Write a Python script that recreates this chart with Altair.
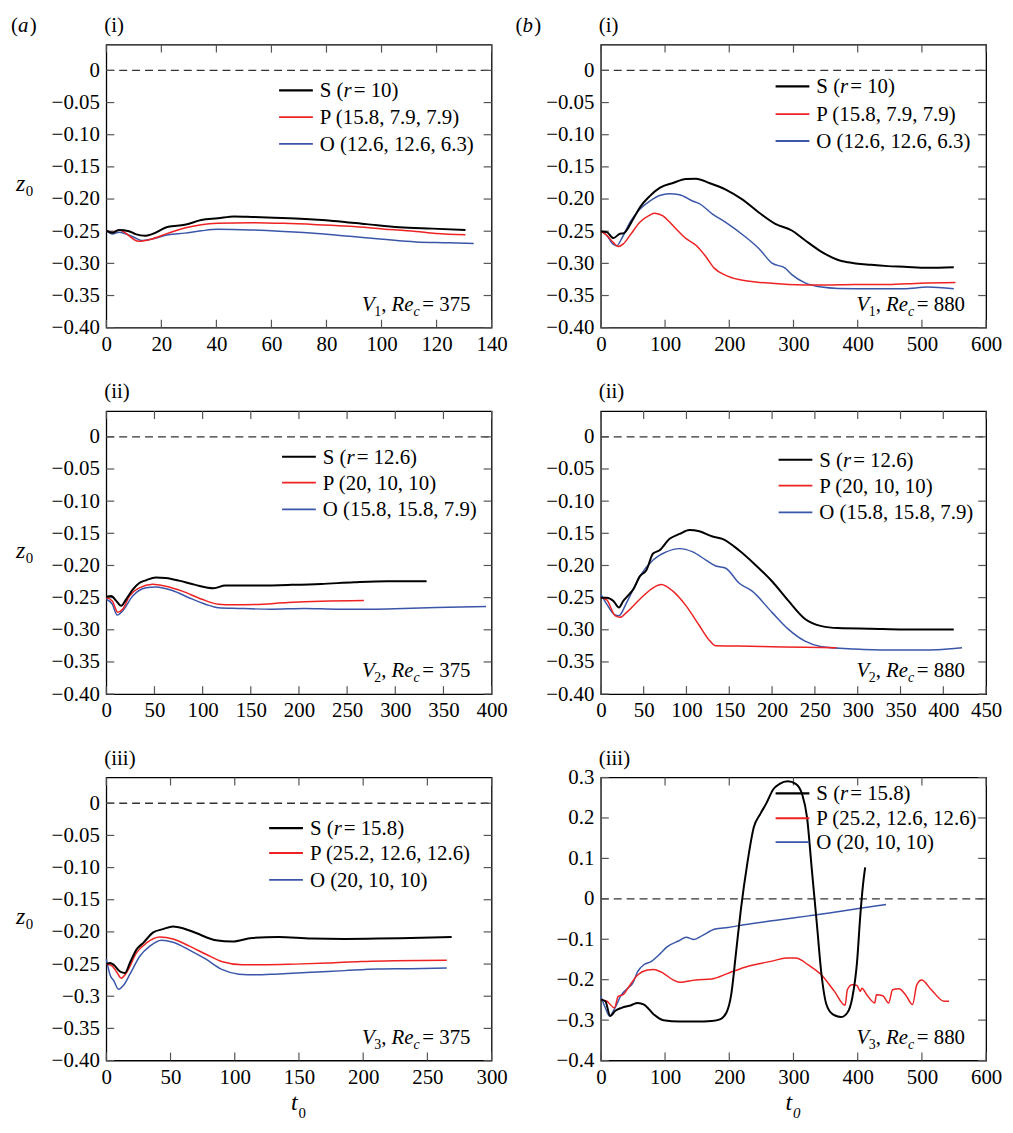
import altair as alt
import pandas as pd

FONT = "Liberation Serif"
FS = 21
W, H = 388, 285
BLACK, RED, BLUE = "#000000", "#ee2222", "#3a56a8"

# ---------------- data ----------------
# (a)(i)  V1, Re_c = 375
A1_S_t = [0, 2.2, 4.6, 8.2, 10.6, 14.2, 16.6, 22.5, 28.5, 34.5, 40.5, 46.5, 53.7, 60.9, 70.5, 82.5, 94.5, 106.5, 118.5, 130.5]
A1_S_z = [-0.249, -0.2525, -0.248, -0.250, -0.2545, -0.257, -0.2545, -0.243, -0.240, -0.2327, -0.230, -0.227, -0.228, -0.229, -0.2307, -0.234, -0.239, -0.244, -0.246, -0.248]
A1_P_t = [0, 2.2, 4.6, 11.8, 16.6, 22.5, 28.5, 34.5, 40.5, 52.5, 64.5, 76.5, 88.5, 100.5, 112.5, 119.7, 130.5]
A1_P_z = [-0.249, -0.252, -0.248, -0.2657, -0.262, -0.253, -0.245, -0.240, -0.2378, -0.2368, -0.2378, -0.2398, -0.2423, -0.2464, -0.2504, -0.2535, -0.2555]
A1_O_t = [0, 2.2, 4.6, 10.6, 13, 16.6, 22.5, 28.5, 34.5, 40.5, 52.5, 64.5, 76.5, 88.5, 100.5, 112.5, 124.5, 133.5]
A1_O_z = [-0.249, -0.2545, -0.2515, -0.2606, -0.2646, -0.262, -0.2555, -0.253, -0.2494, -0.247, -0.248, -0.2504, -0.2535, -0.258, -0.2626, -0.2667, -0.268, -0.2692]

# (b)(i)  V1, Re_c = 880
B1_S_t = [0, 9.3, 19.6, 29.8, 35, 50.4, 60.7, 76.2, 91.6, 112.2, 132.8, 148.2, 168.8, 194.5, 220.2, 246, 271.7, 297.4, 318, 343.7, 369.5, 384.9, 420.9, 446.7, 472.4, 508.4, 549.6]
B1_S_z = [-0.2504, -0.2514, -0.2606, -0.254, -0.2534, -0.231, -0.2132, -0.1954, -0.1827, -0.175, -0.169, -0.1684, -0.175, -0.1852, -0.2005, -0.2209, -0.2387, -0.2489, -0.2641, -0.282, -0.2947, -0.2982, -0.3023, -0.3043, -0.3053, -0.3069, -0.3059]
B1_P_t = [0, 9.3, 19.6, 27.3, 35, 45.3, 60.7, 76.2, 83.9, 96.7, 112.2, 132.8, 148.2, 163.6, 176.5, 194.5, 215.1, 240.8, 292.3, 343.7, 395.2, 446.7, 498.1, 552.2]
B1_P_z = [-0.2504, -0.2565, -0.2677, -0.2738, -0.2697, -0.2565, -0.2361, -0.2249, -0.2219, -0.226, -0.2412, -0.2616, -0.2718, -0.2896, -0.3074, -0.3186, -0.3252, -0.3288, -0.3328, -0.3338, -0.3328, -0.3328, -0.3308, -0.3298]
B1_O_t = [0, 9.3, 19.6, 24.7, 32.4, 45.3, 60.7, 76.2, 91.6, 107, 122.5, 143, 153.3, 173.9, 194.5, 225.4, 246, 266.6, 287.1, 297.4, 318, 343.7, 369.5, 420.9, 472.4, 508.4, 549.6]
B1_O_z = [-0.2489, -0.2565, -0.2707, -0.2728, -0.2616, -0.2361, -0.2158, -0.2031, -0.1944, -0.1919, -0.1934, -0.2031, -0.2071, -0.2234, -0.2361, -0.259, -0.2768, -0.2997, -0.3074, -0.3176, -0.3303, -0.3369, -0.3389, -0.3394, -0.3394, -0.3369, -0.3394]

# (a)(ii)  V2, Re_c = 375
A2_S_t = [0, 5.1, 10.3, 15.4, 20.6, 27.4, 34.3, 41.1, 51.4, 61.7, 75.4, 92.5, 111.4, 123.4, 154.2, 188.5, 222.8, 257.1, 291.3, 332.5]
A2_S_z = [-0.2485, -0.2475, -0.2551, -0.2628, -0.2526, -0.2374, -0.2272, -0.2231, -0.2186, -0.2196, -0.2236, -0.2302, -0.2353, -0.2313, -0.2313, -0.2302, -0.2287, -0.2262, -0.2247, -0.2247]
A2_P_t = [0, 6.2, 12, 17.1, 24, 34.3, 48, 61.7, 78.8, 99.4, 116.5, 130.2, 154.2, 188.5, 222.8, 267.4]
A2_P_z = [-0.25, -0.2551, -0.2729, -0.2678, -0.2475, -0.2348, -0.2292, -0.2323, -0.2399, -0.2526, -0.2602, -0.2612, -0.2607, -0.2577, -0.2557, -0.2546]
A2_O_t = [0, 6.2, 11.3, 17.1, 27.4, 41.1, 51.4, 68.6, 85.7, 102.8, 116.5, 137.1, 171.4, 205.7, 239.9, 274.2, 308.5, 342.8, 394.2]
A2_O_z = [-0.2526, -0.2602, -0.277, -0.2704, -0.2475, -0.2348, -0.2333, -0.2389, -0.2501, -0.2602, -0.2658, -0.2668, -0.2679, -0.2668, -0.2679, -0.2679, -0.2668, -0.2653, -0.2638]

# (b)(ii)  V2, Re_c = 880
B2_S_t = [0, 6.9, 14.7, 21.2, 26.2, 32, 37.8, 45.5, 53.3, 61, 68.7, 80.3, 91.9, 103.4, 115, 130.5, 142, 161.3, 180.6, 199.9, 219.2, 238.5, 257.8, 277.1, 315.7, 354.3, 412.2]
B2_S_z = [-0.25, -0.25, -0.2551, -0.2653, -0.2551, -0.2465, -0.2374, -0.217, -0.2069, -0.1815, -0.1764, -0.1586, -0.151, -0.1449, -0.1469, -0.155, -0.1586, -0.1764, -0.1992, -0.2246, -0.2551, -0.2831, -0.2943, -0.2973, -0.2983, -0.2994, -0.2994]
B2_P_t = [0, 6.9, 16.6, 22.4, 30.1, 45.5, 61, 70.6, 84.1, 99.6, 115, 126.6, 134.3, 161.3, 199.9, 238.5, 275.2]
B2_P_z = [-0.25, -0.2536, -0.278, -0.2806, -0.2729, -0.2526, -0.2348, -0.2297, -0.2399, -0.2628, -0.2933, -0.3161, -0.3248, -0.3253, -0.3263, -0.3273, -0.3278]
B2_O_t = [0, 6.9, 16.6, 21.2, 30.1, 45.5, 61, 76.4, 91.9, 107.3, 122.7, 134.3, 145.9, 161.3, 176.8, 199.9, 219.2, 238.5, 257.8, 296.4, 335, 373.6, 392.9, 421.8]
B2_O_z = [-0.245, -0.2602, -0.277, -0.278, -0.2577, -0.217, -0.1916, -0.1789, -0.1738, -0.1789, -0.1916, -0.2008, -0.2043, -0.2272, -0.2399, -0.2729, -0.2994, -0.3177, -0.3263, -0.3299, -0.3314, -0.3314, -0.3309, -0.3278]

# (a)(iii)  V3, Re_c = 375
A3_S_t = [0, 3.1, 5.7, 10.8, 14.6, 18.5, 23.6, 28.8, 36.5, 44.2, 51.9, 59.6, 69.9, 85.3, 98.1, 113.5, 134.1, 159.8, 185.4, 211.1, 236.8, 268.9]
A3_S_z = [-0.2501, -0.2485, -0.2511, -0.2618, -0.2638, -0.2475, -0.2272, -0.217, -0.2008, -0.1957, -0.1916, -0.1942, -0.2018, -0.213, -0.215, -0.2094, -0.2079, -0.2104, -0.2109, -0.2104, -0.2094, -0.2079]
A3_P_t = [0, 4.4, 8.2, 11.6, 15.9, 23.6, 31.3, 41.6, 51.9, 64.7, 77.6, 90.4, 105.8, 121.2, 146.9, 172.6, 198.3, 224, 265.1]
A3_P_z = [-0.2501, -0.2526, -0.2628, -0.2719, -0.2628, -0.2323, -0.217, -0.2079, -0.2109, -0.2221, -0.2348, -0.2465, -0.2511, -0.2511, -0.2501, -0.2485, -0.246, -0.245, -0.244]
A3_O_t = [0, 3.1, 5.7, 9.5, 13.4, 18.5, 26.2, 33.9, 42.9, 51.9, 64.7, 77.6, 90.4, 103.3, 116.1, 134.1, 159.8, 185.4, 211.1, 236.8, 265.1]
A3_O_z = [-0.2424, -0.2679, -0.2755, -0.2892, -0.2831, -0.2653, -0.2374, -0.2221, -0.213, -0.216, -0.2282, -0.2424, -0.2587, -0.2658, -0.2668, -0.2653, -0.2628, -0.2602, -0.2577, -0.2572, -0.2562]

# (b)(iii)  V3, Re_c = 880
B3_S_t = [0, 7, 14.6, 22.1, 32.2, 47.2, 57.3, 67.3, 82.4, 97.5, 122.6, 147.7, 172.9, 185.4, 195.5, 203, 210.6, 218.1, 228.1, 238.2, 248.2, 258.3, 268.3, 278.4, 291, 303.5, 313.6, 321.1, 328.6, 336.2, 343.7, 351.3, 361.3, 373.9, 383.9, 391.5, 399, 404, 408, 411.6]
B3_S_z = [-0.2493, -0.2534, -0.2899, -0.2777, -0.2696, -0.2631, -0.2574, -0.2615, -0.2859, -0.3005, -0.3037, -0.3037, -0.3021, -0.298, -0.2818, -0.2371, -0.1316, -0.026, 0.0877, 0.177, 0.2095, 0.2379, 0.2704, 0.2842, 0.2907, 0.2842, 0.2582, 0.2014, 0.0715, -0.0585, -0.1884, -0.2615, -0.2859, -0.2924, -0.2818, -0.2453, -0.1559, -0.0422, 0.0309, 0.078]
B3_P_t = [0, 9.5, 21.1, 27.1, 34.7, 42.2, 57.3, 72.4, 82.4, 97.5, 112.6, 122.6, 147.7, 172.9, 198, 223.1, 248.2, 268.3, 288.4, 303.5, 323.6, 343.7, 363.8, 380.4, 383.9, 391.5, 399, 404, 406.5, 414.1, 426.6, 429.1, 439.2, 448.2, 454.3, 464.3, 474.4, 485.4, 492, 499.5, 514.6, 534.7, 542.2]
B3_P_z = [-0.2493, -0.2534, -0.2696, -0.2412, -0.2371, -0.2209, -0.1884, -0.1762, -0.1746, -0.1843, -0.2006, -0.2063, -0.2006, -0.1981, -0.1843, -0.1697, -0.16, -0.1535, -0.1462, -0.1462, -0.164, -0.1884, -0.229, -0.2631, -0.2249, -0.2128, -0.2144, -0.229, -0.2209, -0.2371, -0.2574, -0.2371, -0.2396, -0.2574, -0.2249, -0.2225, -0.2371, -0.2615, -0.2128, -0.2006, -0.2249, -0.2534, -0.2534]
B3_O_t = [0, 7, 13.6, 22.1, 32.2, 42.2, 49.7, 57.3, 67.3, 77.4, 92.5, 102.5, 122.6, 132.7, 145.2, 157.8, 177.9, 198, 223.1, 273.4, 323.6, 373.9, 409, 444.2]
B3_O_z = [-0.2412, -0.2696, -0.2899, -0.2696, -0.2371, -0.2209, -0.2087, -0.1803, -0.1624, -0.1559, -0.1356, -0.1194, -0.1031, -0.095, -0.1007, -0.091, -0.0747, -0.0707, -0.0642, -0.0528, -0.0422, -0.0309, -0.0219, -0.0138]

# tick values and legend labels
Y_TICKS_A = [-0.40, -0.35, -0.30, -0.25, -0.20, -0.15, -0.10, -0.05, 0.0]
Y_TICKS_B3 = [-0.4, -0.3, -0.2, -0.1, 0.0, 0.1, 0.2, 0.3]
X_TICKS_A1 = [0, 20, 40, 60, 80, 100, 120, 140]
X_TICKS_B1 = [0, 100, 200, 300, 400, 500, 600]
X_TICKS_A2 = [0, 50, 100, 150, 200, 250, 300, 350, 400]
X_TICKS_B2 = [0, 50, 100, 150, 200, 250, 300, 350, 400, 450]
X_TICKS_A3 = [0, 50, 100, 150, 200, 250, 300]
X_TICKS_B3 = [0, 100, 200, 300, 400, 500, 600]

LEG_1 = ["10", "P (15.8, 7.9, 7.9)", "O (12.6, 12.6, 6.3)"]
LEG_2 = ["12.6", "P (20, 10, 10)", "O (15.8, 15.8, 7.9)"]
LEG_3 = ["15.8", "P (25.2, 12.6, 12.6)", "O (20, 10, 10)"]

# ---------------- helpers ----------------
ONE = pd.DataFrame({"k": [0]})

REG = {"(": 0.333, ")": 0.333, " ": 0.25, ",": 0.25, ".": 0.25, "=": 0.564,
       "S": 0.556, "P": 0.556, "O": 0.722, "i": 0.278}
ITA = {"r": 0.389, "V": 0.611, "R": 0.611, "e": 0.444, "c": 0.444, "z": 0.389,
       "t": 0.278, "a": 0.5, "b": 0.5}


def tw(s, italic, size):
    tab = ITA if italic else REG
    return sum(tab.get(ch, 0.5) for ch in s) * size


def piece(txt, x, y, size=FS, italic=False):
    return alt.Chart(ONE).mark_text(
        font=FONT, fontSize=size, fontStyle="italic" if italic else "normal",
        align="left", baseline="alphabetic", color="black"
    ).encode(x=alt.value(x), y=alt.value(y), text=alt.value(txt))


def rich(pieces, x, y, anchor="left"):
    # pieces: (text, italic, size, dy, extra advance)
    total = sum(tw(t, it, s) + ex for t, it, s, dy, ex in pieces)
    if anchor == "right":
        x = x - total
    out = []
    for t, it, s, dy, ex in pieces:
        out.append(piece(t, x, y + dy, s, it))
        x += tw(t, it, s) + ex
    return out


def panel(series, xticks, ydom, yticks, label_expr, legend, leg_x, leg_rows,
          annot, roman, letter=None, ytitle=False, xtitle=None):
    xs = alt.Scale(domain=[xticks[0], xticks[-1]], nice=False, zero=False)
    ys = alt.Scale(domain=ydom, nice=False, zero=False)
    xaxis = alt.Axis(values=xticks, title=None, ticks=False, domain=False, grid=False,
                     labelFlush=False, labelOverlap=False, labelPadding=6,
                     labelFont=FONT, labelFontSize=FS, labelColor="black")
    yaxis = alt.Axis(values=yticks, title=None, ticks=False, domain=False, grid=False,
                     labelOverlap=False, labelPadding=7, labelExpr=label_expr,
                     labelFont=FONT, labelFontSize=FS, labelColor="black")
    xenc = alt.X("t:Q", scale=xs, axis=xaxis)
    yenc = alt.Y("z:Q", scale=ys, axis=yaxis)

    layers = []
    # dashed zero line
    layers.append(alt.Chart(pd.DataFrame({"z": [0.0]})).mark_rule(
        color="#333333", strokeDash=[8, 5], strokeWidth=1.4
    ).encode(y=yenc, x=alt.value(0), x2=alt.value(W)))
    # inward ticks on all four sides
    xt = pd.DataFrame({"t": xticks})
    yt = pd.DataFrame({"z": yticks})
    tk = dict(color="#555555", strokeWidth=1.2)
    layers.append(alt.Chart(xt).mark_rule(**tk).encode(x=xenc, y=alt.value(H), y2=alt.value(H - 8)))
    layers.append(alt.Chart(xt).mark_rule(**tk).encode(x=xenc, y=alt.value(0), y2=alt.value(8)))
    layers.append(alt.Chart(yt).mark_rule(**tk).encode(y=yenc, x=alt.value(0), x2=alt.value(8)))
    layers.append(alt.Chart(yt).mark_rule(**tk).encode(y=yenc, x=alt.value(W), x2=alt.value(W - 8)))
    # curves: O (blue), P (red), S (black)
    (st, sz), (pt, pz), (ot, oz) = series
    for t, z, col, sw in [(ot, oz, BLUE, 1.5), (pt, pz, RED, 1.5), (st, sz, BLACK, 2.0)]:
        df = pd.DataFrame({"t": t, "z": z})
        layers.append(alt.Chart(df).mark_line(color=col, strokeWidth=sw, interpolate="monotone")
                      .encode(x=xenc, y=yenc))
    # legend
    for (col, sw), yy in zip([(BLACK, 2.2), (RED, 1.8), (BLUE, 1.8)], leg_rows):
        layers.append(alt.Chart(ONE).mark_rule(color=col, strokeWidth=sw).encode(
            x=alt.value(leg_x), x2=alt.value(leg_x + 34), y=alt.value(yy)))
    tx = leg_x + 41
    layers += rich([("S (", False, FS, 0, 0), ("r", True, FS, 0, 2),
                    (" = " + legend[0] + ")", False, FS, 0, 0)],
                   tx, leg_rows[0] + 7)
    layers.append(piece(legend[1], tx, leg_rows[1] + 7))
    layers.append(piece(legend[2], tx, leg_rows[2] + 7))
    # annotation V_k, Re_c = ...
    vk, rec = annot
    layers += rich([("V", True, FS, 0, -0.5), (vk, False, 14, 5, 0), (", ", False, FS, 0, 0),
                    ("Re", True, FS, 0, 0), ("c", True, 14, 5, 2.5), (" = " + rec, False, FS, 0, 0)],
                   W - 16, H - 17, anchor="right")
    # panel labels
    layers.append(piece(roman, -2, -13))
    if letter:
        layers += rich([("(", False, FS, 0, 0), (letter, True, FS, 0, 1.5), (")", False, FS, 0, 0)],
                       letter_x[letter], -13)
    if ytitle:
        layers.append(piece("z", -91, H / 2 + 5, 24, True))
        layers.append(piece("0", -81, H / 2 + 10, 15, False))
    if xtitle:
        layers.append(piece("t", W / 2 - 8, H + 50, 24, True))
        layers.append(piece("0", W / 2 - 0.5, H + 58, 15, xtitle == "it"))
    return alt.layer(*layers).properties(width=W, height=H)


letter_x = {"a": -96, "b": -86}

LBL_2F = "datum.value == 0 ? '0' : format(datum.value, '.2f')"
LBL_A3 = "datum.value == 0 ? '0' : (abs(datum.value + 0.3) < 1e-6 ? '\u22120.3' : format(datum.value, '.2f'))"
LBL_1F = "datum.value == 0 ? '0' : format(datum.value, '.1f')"
YD = [-0.40, 0.04]

a1 = panel([(A1_S_t, A1_S_z), (A1_P_t, A1_P_z), (A1_O_t, A1_O_z)], X_TICKS_A1, YD, Y_TICKS_A, LBL_2F,
           LEG_1, 174, [46, 73, 100], ("1", "375"), "(i)", letter="a", ytitle=True)
b1 = panel([(B1_S_t, B1_S_z), (B1_P_t, B1_P_z), (B1_O_t, B1_O_z)], X_TICKS_B1, YD, Y_TICKS_A, LBL_2F,
           LEG_1, 176, [42, 70, 97], ("1", "880"), "(i)", letter="b")
a2 = panel([(A2_S_t, A2_S_z), (A2_P_t, A2_P_z), (A2_O_t, A2_O_z)], X_TICKS_A2, YD, Y_TICKS_A, LBL_2F,
           LEG_2, 177, [46, 72, 99], ("2", "375"), "(ii)", ytitle=True)
b2 = panel([(B2_S_t, B2_S_z), (B2_P_t, B2_P_z), (B2_O_t, B2_O_z)], X_TICKS_B2, YD, Y_TICKS_A, LBL_2F,
           LEG_2, 179, [49, 75, 102], ("2", "880"), "(ii)")
a3 = panel([(A3_S_t, A3_S_z), (A3_P_t, A3_P_z), (A3_O_t, A3_O_z)], X_TICKS_A3, YD, Y_TICKS_A, LBL_A3,
           LEG_3, 164, [51, 76, 103], ("3", "375"), "(iii)", ytitle=True, xtitle="up")
b3 = panel([(B3_S_t, B3_S_z), (B3_P_t, B3_P_z), (B3_O_t, B3_O_z)], X_TICKS_B3, [-0.4, 0.3], Y_TICKS_B3, LBL_1F,
           LEG_3, 176, [16, 41, 65], ("3", "880"), "(iii)", xtitle="it")

chart = alt.concat(
    a1, b1, a2, b2, a3, b3, columns=2,
    spacing={"row": 84, "column": 110}, bounds="flush",
).properties(padding={"left": 2, "top": 2, "right": 2, "bottom": 2}).configure_view(
    stroke="black", strokeWidth=1.3
)

chart.save("out.html", embed_options={"renderer": "svg", "actions": False})
